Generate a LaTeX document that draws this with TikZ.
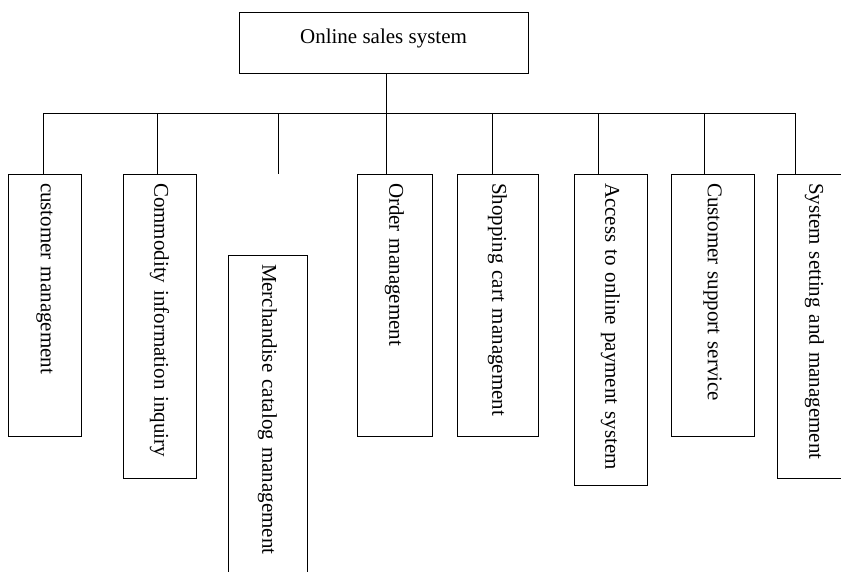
\documentclass[tikz,border=0pt]{standalone}
\usepackage{fontspec}
\setmainfont{Liberation Serif}
\usetikzlibrary{positioning}

\begin{document}
\begin{tikzpicture}[x=1pt,y=-1pt,line width=1pt,
  top/.style={draw,inner sep=0pt,minimum width=289pt,minimum height=61pt,
    text depth=13pt,font=\fontsize{21}{25}\selectfont},
  sub/.style={draw,rotate=-90,inner sep=0pt,inner xsep=9pt,align=left,
    font=\fontsize{21}{25}\selectfont}]
  \clip (0,0) rectangle (841,571);
  \useasboundingbox (0,0) rectangle (841,571);
  \node[top] (sys) at (383.5,42.5) {Online sales system};
  % bus line
  \coordinate (b1) at (43,113);
  \coordinate (b2) at (157,113);
  \coordinate (b3) at (278,113);
  \coordinate (b4) at (386,113);
  \coordinate (b5) at (492,113);
  \coordinate (b6) at (598,113);
  \coordinate (b7) at (704,113);
  \coordinate (b8) at (795,113);
  \coordinate (b3e) at (278,174);
  % modules
  \node[sub,minimum width=262pt,minimum height=73pt,text width=244pt] (c1) at (44.5,305) {customer management};
  \node[sub,minimum width=304pt,minimum height=73pt,text width=286pt] (c2) at (159.5,326) {Commodity information inquiry};
  \node[sub,minimum width=330pt,minimum height=79pt,text width=312pt] (c3) at (267.5,420) {Merchandise catalog management};
  \node[sub,minimum width=262pt,minimum height=75pt,text width=244pt] (c4) at (394.5,305) {Order management};
  \node[sub,minimum width=262pt,minimum height=81pt,text width=244pt] (c5) at (497.5,305) {Shopping cart management};
  \node[sub,minimum width=311pt,minimum height=73pt,text width=293pt] (c6) at (610.5,329.5) {Access to online payment system};
  \node[sub,minimum width=262pt,minimum height=83pt,text width=244pt] (c7) at (712.5,305) {Customer support service};
  \node[sub,minimum width=304pt,minimum height=75pt,text width=286pt] (c8) at (814.5,326) {System setting and management};
  \draw (sys.south -| b4) -- (b4);
  \draw (b1) -- (b8);
  \draw (b1) -- (b1 |- c1.west);
  \draw (b2) -- (b2 |- c2.west);
  \draw (b3) -- (b3e);
  \draw (b4) -- (b4 |- c4.west);
  \draw (b5) -- (b5 |- c5.west);
  \draw (b6) -- (b6 |- c6.west);
  \draw (b7) -- (b7 |- c7.west);
  \draw (b8) -- (b8 |- c8.west);
\end{tikzpicture}
\end{document}
